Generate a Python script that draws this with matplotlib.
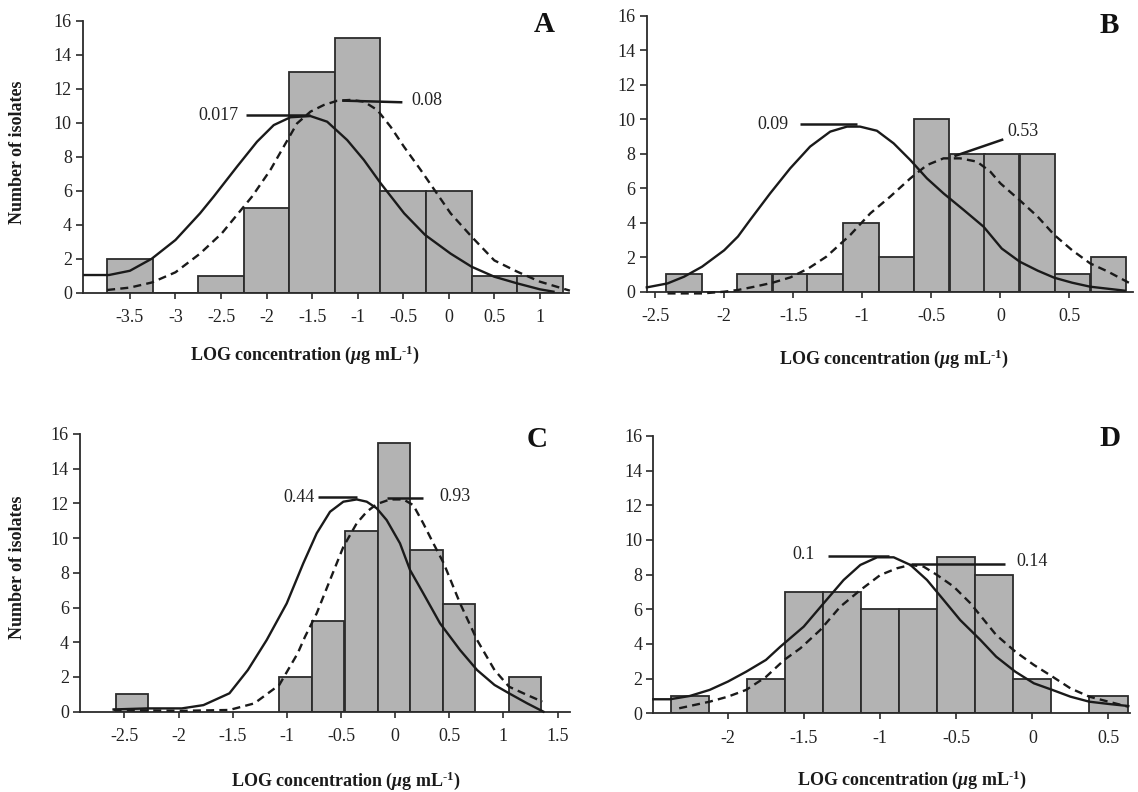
import matplotlib
matplotlib.use("Agg")
import matplotlib.pyplot as plt

plt.rcParams['font.family'] = ['Liberation Serif', 'DejaVu Serif']
plt.rcParams['mathtext.fontset'] = 'custom'
plt.rcParams['mathtext.rm'] = 'Liberation Serif:bold'
plt.rcParams['mathtext.it'] = 'Liberation Serif:italic:bold'
plt.rcParams['mathtext.bf'] = 'Liberation Serif:bold'

# ---------------- Panel A ----------------
a_bar_x = [-3.5, -3.0, -2.5, -2.0, -1.5, -1.0, -0.5, 0.0, 0.5, 1.0]
a_bar_h = [2, 0, 1, 5, 13, 15, 6, 6, 1, 1]
a_solid_x = [-4.0, -3.73, -3.5, -3.26, -3.0, -2.73, -2.581, -2.325, -2.105, -1.921, -1.738,
             -1.518, -1.335, -1.115, -0.932, -0.748, -0.49, -0.26, 0.02, 0.25, 0.5, 0.75,
             1.0, 1.15]
a_solid_y = [1.04, 1.04, 1.29, 2.0, 3.1, 4.67, 5.65, 7.41, 8.88, 9.86, 10.32,
             10.39, 10.06, 8.98, 7.81, 6.44, 4.67, 3.4, 2.3, 1.53, 0.94, 0.55,
             0.2, 0.06]
a_dash_x = [-3.75, -3.5, -3.26, -3.0, -2.73, -2.49, -2.16, -1.958, -1.812, -1.665, -1.518,
            -1.372, -1.225, -1.078, -0.932, -0.785, -0.638, -0.492, -0.308, 0.02, 0.25,
            0.5, 0.75, 1.0, 1.33]
a_dash_y = [0.16, 0.3, 0.6, 1.2, 2.3, 3.5, 5.65, 7.22, 8.59, 9.96, 10.65,
            11.04, 11.29, 11.34, 11.24, 10.75, 9.76, 8.59, 7.22, 4.67, 3.3,
            1.9, 1.24, 0.65, 0.12]
a_ticks = [-3.5, -3, -2.5, -2, -1.5, -1, -0.5, 0, 0.5, 1]
a_tick_labels = ['-3.5', '-3', '-2.5', '-2', '-1.5', '-1', '-0.5', '0', '0.5', '1']
a_labels = ['0.017', '0.08']

# ---------------- Panel B ----------------
b_bar_x = [-2.29, -2.03, -1.78, -1.52, -1.27, -1.01, -0.75, -0.50, -0.24, 0.01, 0.27, 0.52, 0.78]
b_bar_h = [1, 0, 1, 1, 1, 4, 2, 10, 8, 8, 8, 1, 2]
b_solid_x = [-2.56, -2.41, -2.29, -2.16, -2.0, -1.9, -1.812, -1.667, -1.522, -1.378, -1.232,
             -1.111, -1.016, -0.894, -0.773, -0.652, -0.532, -0.412, -0.266, -0.122, 0.01,
             0.14, 0.27, 0.39, 0.52, 0.65, 0.9]
b_solid_y = [0.25, 0.48, 0.87, 1.45, 2.4, 3.2, 4.16, 5.70, 7.15, 8.41, 9.28,
             9.57, 9.57, 9.33, 8.60, 7.63, 6.57, 5.70, 4.74, 3.77, 2.5,
             1.74, 1.22, 0.81, 0.52, 0.29, 0.06]
b_dash_x = [-2.41, -2.16, -2.0, -1.9, -1.78, -1.65, -1.52, -1.39, -1.26, -1.087, -0.942,
            -0.798, -0.652, -0.532, -0.412, -0.291, -0.17, -0.073, 0.0, 0.14, 0.27, 0.39,
            0.52, 0.65, 0.78, 0.93]
b_dash_y = [-0.1, -0.1, 0.0, 0.1, 0.29, 0.52, 0.83, 1.35, 2.03, 3.29, 4.54,
            5.51, 6.57, 7.34, 7.73, 7.73, 7.54, 6.96, 6.28, 5.3, 4.35, 3.29,
            2.4, 1.64, 1.16, 0.52]
b_ticks = [-2.5, -2, -1.5, -1, -0.5, 0, 0.5]
b_tick_labels = ['-2.5', '-2', '-1.5', '-1', '-0.5', '0', '0.5']
b_labels = ['0.09', '0.53']

# ---------------- Panel C ----------------
c_bar_x = [-2.43, -0.92, -0.62, -0.31, -0.01, 0.29, 0.59, 1.20]
c_bar_h = [1, 2, 5.2, 10.4, 15.5, 9.3, 6.2, 2]
c_solid_x = [-2.6, -2.29, -1.97, -1.77, -1.53, -1.36, -1.186, -1.001, -0.848, -0.724,
             -0.601, -0.478, -0.355, -0.262, -0.17, -0.078, 0.045, 0.138, 0.26, 0.415,
             0.6, 0.757, 0.918, 1.052, 1.22, 1.37]
c_solid_y = [0.13, 0.19, 0.19, 0.38, 1.06, 2.4, 4.13, 6.24, 8.55, 10.28,
             11.52, 12.10, 12.23, 12.10, 11.72, 11.04, 9.70, 8.16, 6.82, 5.09,
             3.55, 2.4, 1.54, 1.06, 0.48, 0.0]
c_dash_x = [-2.6, -1.97, -1.53, -1.3, -1.07, -0.9, -0.832, -0.724, -0.601, -0.478, -0.355,
            -0.262, -0.17, -0.047, 0.076, 0.168, 0.26, 0.353, 0.449, 0.6, 0.757, 0.918,
            1.052, 1.22, 1.36]
c_dash_y = [0.1, 0.05, 0.1, 0.48, 1.54, 3.36, 4.32, 5.67, 7.59, 9.5, 10.85,
            11.52, 11.96, 12.23, 12.23, 11.9, 10.85, 9.70, 8.55, 6.24, 4.13, 2.4,
            1.44, 0.96, 0.58]
c_ticks = [-2.5, -2, -1.5, -1, -0.5, 0, 0.5, 1, 1.5]
c_tick_labels = ['-2.5', '-2', '-1.5', '-1', '-0.5', '0', '0.5', '1', '1.5']
c_labels = ['0.44', '0.93']

# ---------------- Panel D ----------------
d_bar_x = [-2.25, -1.75, -1.5, -1.25, -1.0, -0.75, -0.5, -0.25, 0.0, 0.5]
d_bar_h = [1, 2, 7, 7, 6, 6, 9, 8, 2, 1]
d_solid_x = [-2.49, -2.38, -2.25, -2.12, -2.0, -1.88, -1.75, -1.656, -1.502, -1.371, -1.24,
             -1.13, -1.02, -0.911, -0.801, -0.692, -0.583, -0.474, -0.341, -0.238, -0.112,
             0.01, 0.131, 0.25, 0.374, 0.5, 0.63]
d_solid_y = [0.81, 0.81, 1.0, 1.35, 1.83, 2.4, 3.08, 3.84, 5.0, 6.35, 7.69,
             8.56, 9.0, 9.0, 8.56, 7.69, 6.54, 5.38, 4.23, 3.27, 2.4,
             1.73, 1.35, 0.96, 0.67, 0.54, 0.42]
d_dash_x = [-2.32, -2.12, -2.0, -1.88, -1.75, -1.63, -1.524, -1.393, -1.262, -1.13, -0.999,
            -0.889, -0.801, -0.714, -0.626, -0.517, -0.407, -0.238, -0.112, 0.01, 0.131,
            0.25, 0.374, 0.5, 0.63]
d_dash_y = [0.29, 0.67, 0.96, 1.35, 2.1, 3.08, 3.75, 4.81, 6.15, 7.11, 7.98,
            8.37, 8.56, 8.46, 7.98, 7.31, 6.35, 4.52, 3.56, 2.79, 2.12,
            1.44, 0.96, 0.67, 0.38]
d_ticks = [-2, -1.5, -1, -0.5, 0, 0.5]
d_tick_labels = ['-2', '-1.5', '-1', '-0.5', '0', '0.5']
d_labels = ['0.1', '0.14']

y_ticks = [0, 2, 4, 6, 8, 10, 12, 14, 16]

W, H = 1138, 792
fig = plt.figure(figsize=(W / 100, H / 100), dpi=100)
fig.patch.set_facecolor('white')

BAR_FC = '#b3b3b3'
EDGE = '#2b2b2b'
LINE = '#1a1a1a'


def make_axes(left, right, y0, y16):
    return fig.add_axes([left / W, 1 - y0 / H, (right - left) / W, (y0 - y16) / H])


def panel(ax, xlim, bx, bh, bw, sx, sy, dx, dy, ticks, tlabels, letter, letter_xy, ann):
    ax.bar(bx, bh, width=bw, color=BAR_FC, edgecolor=EDGE, linewidth=1.3,
           align='center', zorder=2)
    ax.plot(sx, sy, color=LINE, lw=1.7, zorder=3, clip_on=False,
            solid_joinstyle='round')
    ax.plot(dx, dy, color=LINE, lw=1.7, ls=(0, (3.4, 2.2)), zorder=3, clip_on=False)
    ax.set_xlim(*xlim)
    ax.set_ylim(0, 16)
    ax.set_xticks(ticks)
    ax.set_xticklabels(tlabels)
    ax.set_yticks(y_ticks)
    for s in ['top', 'right']:
        ax.spines[s].set_visible(False)
    for s in ['left', 'bottom']:
        ax.spines[s].set_color(EDGE)
        ax.spines[s].set_linewidth(1.3)
    ax.tick_params(axis='x', direction='out', length=4, width=1.2, pad=8,
                   labelsize=13, colors=EDGE, labelcolor='#222222')
    ax.tick_params(axis='y', direction='out', length=5, width=1.2, pad=3,
                   labelsize=13, colors=EDGE, labelcolor='#222222')
    ax.set_facecolor('none')
    ax.text(letter_xy[0], letter_xy[1], letter, fontsize=21, fontweight='bold',
            ha='center', va='center', color='#111111')
    for (txt, txy, lx, ly) in ann:
        ax.plot(lx, ly, color=LINE, lw=1.8, zorder=4, solid_capstyle='butt')
        ax.text(txy[0], txy[1], txt, fontsize=13, ha='center', va='center',
                color='#222222', zorder=5)


axA = make_axes(82.9, 569, 292.7, 20.7)
panel(axA, (-4.016, 1.32), a_bar_x, a_bar_h, 0.5, a_solid_x, a_solid_y, a_dash_x, a_dash_y,
      a_ticks, a_tick_labels, 'A', (1.05, 15.75),
      [(a_labels[0], (-2.53, 10.45), [-2.222, -1.518], [10.45, 10.45]),
       (a_labels[1], (-0.24, 11.33), [-1.17, -0.509], [11.3, 11.2])])

axB = make_axes(646.8, 1133, 291.7, 15.7)
panel(axB, (-2.56, 0.96), b_bar_x, b_bar_h, 0.255, b_solid_x, b_solid_y, b_dash_x, b_dash_y,
      b_ticks, b_tick_labels, 'B', (0.787, 15.46),
      [(b_labels[0], (-1.647, 9.7), [-1.449, -1.039], [9.7, 9.7]),
       (b_labels[1], (0.165, 9.31), [-0.333, 0.021], [7.86, 8.83])])

axC = make_axes(80, 570, 711.7, 434)
panel(axC, (-2.91, 1.615), c_bar_x, c_bar_h, 0.302, c_solid_x, c_solid_y, c_dash_x, c_dash_y,
      c_ticks, c_tick_labels, 'C', (1.315, 15.7),
      [(c_labels[0], (-0.884, 12.35), [-0.709, -0.355], [12.35, 12.35]),
       (c_labels[1], (0.549, 12.4), [-0.078, 0.26], [12.29, 12.29])])

axD = make_axes(653.3, 1129.8, 713.3, 436)
panel(axD, (-2.49, 0.64), d_bar_x, d_bar_h, 0.25, d_solid_x, d_solid_y, d_dash_x, d_dash_y,
      d_ticks, d_tick_labels, 'D', (0.507, 15.87),
      [(d_labels[0], (-1.5, 9.19), [-1.34, -0.94], [9.08, 9.08]),
       (d_labels[1], (0.0, 8.75), [-0.8, -0.18], [8.6, 8.6])])

xlab = r'LOG concentration ($\mathit{\mu}$g mL$^{\text{-1}}$)'
for (cx, cy) in [(305, 355), (894, 359), (346, 781), (912, 780)]:
    fig.text(cx / W, 1 - cy / H, xlab, fontsize=13, fontweight='bold',
             ha='center', va='center', color='#1a1a1a')
for (cx, cy) in [(18, 152), (18, 567)]:
    fig.text(cx / W, 1 - cy / H, 'Number of isolates', fontsize=13, fontweight='bold',
             rotation=90, ha='center', va='center', color='#1a1a1a')

fig.savefig('out.png', dpi=100, facecolor='white')
